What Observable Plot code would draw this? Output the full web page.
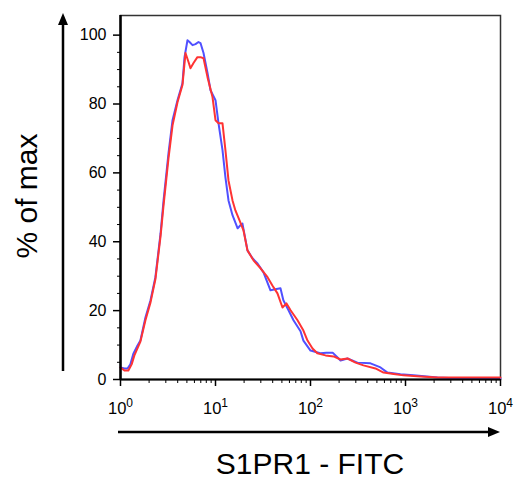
<!DOCTYPE html>
<html><head><meta charset="utf-8">
<script src="https://cdn.jsdelivr.net/npm/d3@7"></script>
<script src="https://cdn.jsdelivr.net/npm/@observablehq/plot@0.6"></script>
<style>body{margin:0;background:#fff}</style>
</head><body><div id="chart"></div>
<script>
const blueX = [1.00,1.10,1.185,1.27,1.37,1.51,1.62,1.83,2.07,2.33,2.64,2.84,3.20,3.53,3.98,4.49,4.72,5.07,5.33,5.73,6.16,6.62,6.95,7.48,8.24,8.86,10.0,10.76,11.85,12.72,13.70,15.1,17.1,18.3,19.2,21.7,24.5,27.7,32.0,37.9,42.6,48.3,51.8,58.7,66.2,78.5,84.2,100,127,147,171,188,207,245,312,428,546,646,886,1214,2173,3793,10000];
const blueY = [3.5,3.2,3.2,4.4,7.6,9.9,11.3,18.0,23.0,29.7,42.4,52.0,65.7,75.3,81.1,86.0,93.6,98.5,98.0,97.1,97.4,98.0,97.7,94.8,89.0,84.0,81.1,74.4,66.6,58.7,52.0,47.7,43.9,44.8,45.3,37.5,35.2,33.7,31.1,25.9,26.2,26.5,23.0,20.1,17.2,14.0,11.3,8.4,7.6,7.8,7.8,6.7,5.5,6.1,4.9,4.7,3.5,2.0,1.5,1.2,0.6,0.3,0.3];
const redX = [1.00,1.10,1.21,1.31,1.40,1.62,1.83,2.07,2.33,2.64,2.84,3.20,3.53,3.98,4.49,4.83,5.2,5.45,5.87,6.45,6.95,7.48,8.24,9.30,10.0,10.76,11.85,12.72,13.7,15.1,16.2,17.9,19.7,21.7,25.1,29.8,35.3,39.7,44.9,50.7,55.9,61.7,73.0,84.2,93.0,105,118,144,175,207,245,298,361,483,587,785,953,1438,2173,3793,10000];
const redY = [3.5,2.6,2.6,4.4,7.0,11.0,17.2,22.4,29.1,41.6,50.6,64.2,73.8,80.5,85.5,94.8,92.2,90.4,91.9,93.6,93.6,93.3,87.8,82.0,75.3,74.4,74.4,66.6,57.8,52.0,49.1,46.2,43.3,37.5,34.6,32.3,29.7,27.3,25.0,20.9,22.1,20.1,17.2,14.2,11.3,9.0,7.6,7.0,6.7,5.8,6.1,4.9,4.1,3.2,2.0,1.5,1.2,0.9,0.6,0.6,0.6];

const yTicks = [0,20,40,60,80,100];
const yMinorTicks = [5,10,15,25,30,35,45,50,55,65,70,75,85,90,95];
const xTicks = [1,10,100,1000,10000];
const xTickExponents = ["0","1","2","3","4"];
const xMinorTicks = [2,3,4,5,6,7,8,9,20,30,40,50,60,70,80,90,200,300,400,500,600,700,800,900,2000,3000,4000,5000,6000,7000,8000,9000];
const xTitle = "S1PR1 - FITC";
const yTitle = "% of max";

const blue = blueX.map((x, i) => ({x, y: blueY[i]}));
const red = redX.map((x, i) => ({x, y: redY[i]}));

const plot = Plot.plot({
  width: 518, height: 481,
  marginLeft: 120, marginRight: 18, marginTop: 15, marginBottom: 102,
  style: {fontFamily: "'Liberation Sans', Arial, sans-serif", fontSize: "16px", color: "#000", background: "#fff", overflow: "visible"},
  x: {type: "log", domain: [1, 10000]},
  y: {domain: [0, 105.7]},
  marks: [
    Plot.frame({stroke: "#333", strokeWidth: 1.5}),
    Plot.line(blue, {x: "x", y: "y", stroke: "#5050ff", strokeWidth: 2}),
    Plot.line(red, {x: "x", y: "y", stroke: "#ff3333", strokeWidth: 2}),
    Plot.ruleX([1], {stroke: "#000", strokeWidth: 2.5}),
    Plot.ruleY([0], {stroke: "#000", strokeWidth: 2}),
    Plot.axisY({ticks: yTicks, tickSize: 7, tickPadding: 7, fontSize: 16, label: null, strokeWidth: 1.5}),
    Plot.axisY({ticks: yMinorTicks, tickSize: 3, tickFormat: () => "", label: null, strokeWidth: 1}),
    Plot.axisX({ticks: xTicks, tickSize: 7, tickPadding: 16, fontSize: 16.5, label: null, strokeWidth: 1.5,
      tickFormat: d => xTickExponents[xTicks.indexOf(d)]}),
    Plot.axisX({ticks: xMinorTicks, tickSize: 4, tickFormat: () => "", label: null, strokeWidth: 1})
  ]
});

const svg = d3.select(plot);
svg.selectAll('g[aria-label="x-axis tick label"] text').each(function() {
  const e = this.textContent;
  if (!e) { this.remove(); return; }
  const t = d3.select(this);
  t.text(null);
  t.append("tspan").text("10");
  t.append("tspan").attr("dy", "-0.6em").attr("font-size", "12px").text(e);
});
svg.selectAll('g[aria-label="y-axis tick label"] text').each(function() {
  if (!this.textContent) this.remove();
});

const xs = plot.scale("x"), ys = plot.scale("y");
const x0 = xs.apply(1), x1 = xs.apply(10000), y0 = ys.apply(0);
const g = svg.append("g");
const ay = 432;
g.append("line").attr("x1", x0 - 2).attr("x2", x1 - 8).attr("y1", ay).attr("y2", ay).attr("stroke", "#000").attr("stroke-width", 2.5);
g.append("path").attr("d", `M${x1},${ay}L${x1 - 12},${ay - 5}L${x1 - 12},${ay + 5}Z`).attr("fill", "#000");
const ax = 63;
g.append("line").attr("x1", ax).attr("x2", ax).attr("y1", y0 - 8).attr("y2", 21).attr("stroke", "#000").attr("stroke-width", 2.5);
g.append("path").attr("d", `M${ax},13L${ax - 5},25L${ax + 5},25Z`).attr("fill", "#000");
g.append("text").attr("x", (x0 + x1) / 2).attr("y", 474).attr("text-anchor", "middle")
  .attr("font-size", "30px").attr("fill", "#000").text(xTitle);
g.append("text").attr("transform", "translate(37,196) rotate(-90)").attr("text-anchor", "middle")
  .attr("font-size", "30px").attr("fill", "#000").text(yTitle);

document.getElementById("chart").appendChild(plot);
</script>
</body></html>
